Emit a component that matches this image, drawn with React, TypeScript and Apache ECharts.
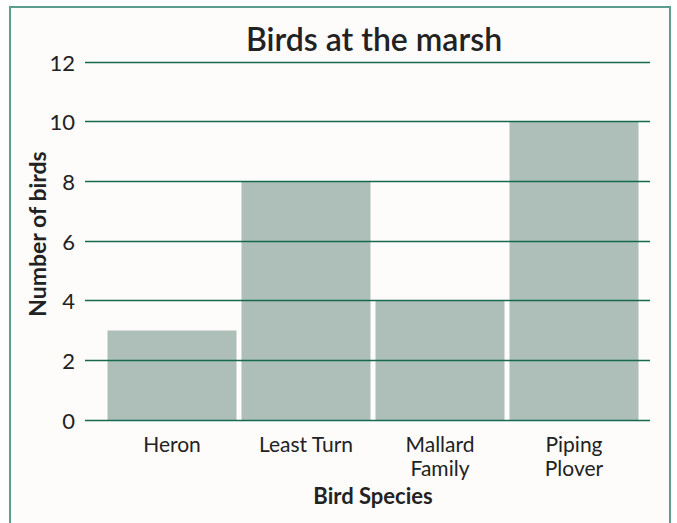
import React, { useEffect, useRef } from "react";
import * as echarts from "echarts";

const categories = ["Heron", "Least Turn", "Mallard\nFamily", "Piping\nPlover"];
const birdCounts = [3, 8, 4, 10];
const yTicks = [0, 2, 4, 6, 8, 10, 12];
const yAxisTitle = "Number of birds";

const FONT = "Lato, 'Open Sans', sans-serif";

export default function App() {
  const ref = useRef<HTMLDivElement>(null);
  useEffect(() => {
    if (!ref.current) return;
    const chart = echarts.init(ref.current, null, { renderer: "svg" });
    const top = 62;
    const bottom = 523 - 420;
    chart.setOption({
      animation: false,
      backgroundColor: "#ffffff",
      title: {
        text: "Birds at the marsh",
        left: 369,
        textAlign: "center",
        top: 17,
        textStyle: { fontFamily: FONT, fontSize: 32, fontWeight: 600, color: "#222" },
      },
      graphic: [
        {
          type: "rect",
          z: -10,
          silent: true,
          shape: { x: 10, y: 7, width: 660, height: 530 },
          style: { fill: "#fdfcfa", stroke: "#5c9e8e", lineWidth: 2 },
        },
        {
          type: "text",
          x: 37,
          y: 234,
          rotation: Math.PI / 2,
          silent: true,
          style: {
            text: yAxisTitle,
            fontFamily: FONT,
            fontSize: 23,
            fontWeight: 700,
            fill: "#222",
            align: "center",
            verticalAlign: "middle",
          },
        },
      ],
      grid: [
        { left: 105, width: 536, top, bottom },
        { left: 85, right: 27, top, bottom },
      ],
      xAxis: [
        {
          gridIndex: 0,
          type: "category",
          data: categories,
          axisLine: { show: false },
          axisTick: { show: false },
          axisLabel: {
            fontFamily: FONT,
            fontSize: 21,
            color: "#222",
            margin: 11,
            lineHeight: 24,
          },
          name: "Bird Species",
          nameLocation: "middle",
          nameGap: 64,
          nameTextStyle: { fontFamily: FONT, fontSize: 22, fontWeight: 700, color: "#222" },
        },
        {
          gridIndex: 1,
          type: "value",
          show: false,
          min: 0,
          max: 1,
        },
      ],
      yAxis: [
        {
          gridIndex: 0,
          type: "value",
          min: 0,
          max: 12,
          interval: 2,
          show: false,
        },
        {
          gridIndex: 1,
          type: "value",
          min: 0,
          max: 12,
          interval: 2,
          z: 5,
          axisLine: { show: false },
          axisTick: { show: false },
          splitLine: { show: true, lineStyle: { color: "#17684f", width: 1.3 } },
          axisLabel: {
            fontFamily: FONT,
            fontSize: 22,
            color: "#222",
            margin: 10,
            formatter: (v: number) => (yTicks.includes(v) ? String(v) : ""),
          },
        },
      ],
      series: [
        {
          type: "bar",
          xAxisIndex: 0,
          yAxisIndex: 0,
          data: birdCounts,
          barWidth: 129,
          itemStyle: { color: "#adbfb8" },
          z: 2,
        },
      ],
    });
    return () => chart.dispose();
  }, []);
  return (
    <div
      ref={ref}
      style={{ position: "fixed", left: 0, top: 0, width: 677, height: 523 }}
    />
  );
}
